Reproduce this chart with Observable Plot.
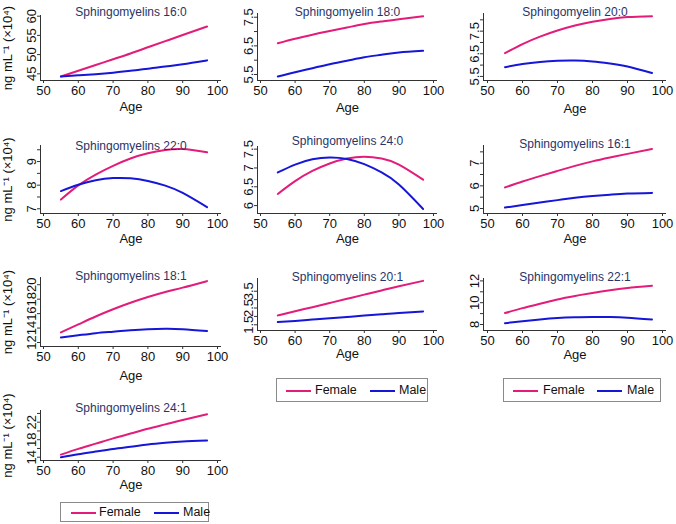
<!DOCTYPE html>
<html><head><meta charset="utf-8">
<script src="https://cdn.jsdelivr.net/npm/d3@7"></script>
<script src="https://cdn.jsdelivr.net/npm/@observablehq/plot@0.6"></script>
<style>
body{margin:0;background:#fff;font-family:"Liberation Sans",Arial,sans-serif;}
#root{position:relative;width:676px;height:524px;overflow:hidden;background:#fff;}
.panel{position:absolute;}
.legend{position:absolute;border:1px solid #8a8a8a;box-sizing:border-box;background:#fff;}
.legend .sw{position:absolute;height:2px;}
.legend .lab{position:absolute;font-size:12.5px;color:#111;line-height:14px;}
</style></head><body><div id="root"></div>
<script>
// ---------- data ----------
const ages = [55, 60, 65, 70, 75, 80, 85, 90, 97];
const sexes = ["Female", "Male"];
const sexColors = ["#e31c79", "#1616d8"];
const xTicks = [50, 60, 70, 80, 90, 100];
const xAxisLabel = "Age";
const yAxisLabel = "ng mL\u207B\u00B9 (\u00D710\u2074)";
const titles = ["Sphingomyelins 16:0", "Sphingomyelin 18:0", "Sphingomyelin 20:0",
  "Sphingomyelins 22:0", "Sphingomyelins 24:0", "Sphingomyelins 16:1",
  "Sphingomyelins 18:1", "Sphingomyelins 20:1", "Sphingomyelins 22:1", "Sphingomyelins 24:1"];

const female_16_0 = [44.3, 45.8, 47.3, 48.8, 50.3, 51.9, 53.5, 55.1, 57.3];
const male_16_0   = [44.3, 44.6, 44.9, 45.3, 45.8, 46.3, 46.9, 47.5, 48.5];
const female_18_0 = [6.59, 6.75, 6.89, 7.02, 7.14, 7.26, 7.35, 7.43, 7.53];
const male_18_0   = [5.43, 5.58, 5.72, 5.86, 5.98, 6.10, 6.19, 6.27, 6.33];
const female_20_0 = [6.53, 6.93, 7.26, 7.53, 7.75, 7.92, 8.04, 8.12, 8.16];
const male_20_0   = [5.91, 6.05, 6.14, 6.19, 6.20, 6.16, 6.07, 5.94, 5.65];
const female_22_0 = [7.39, 7.99, 8.45, 8.82, 9.13, 9.35, 9.49, 9.53, 9.39];
const male_22_0   = [7.75, 8.02, 8.21, 8.30, 8.29, 8.18, 7.98, 7.67, 7.07];
const female_24_0 = [6.31, 6.65, 6.92, 7.12, 7.25, 7.30, 7.25, 7.09, 6.69];
const male_24_0   = [6.88, 7.09, 7.23, 7.28, 7.24, 7.10, 6.88, 6.56, 5.91];
const female_16_1 = [5.93, 6.19, 6.43, 6.66, 6.88, 7.08, 7.25, 7.41, 7.63];
const male_16_1   = [5.04, 5.16, 5.27, 5.37, 5.47, 5.55, 5.61, 5.66, 5.69];
const female_18_1 = [13.4, 14.5, 15.6, 16.6, 17.5, 18.3, 19.0, 19.6, 20.5];
const male_18_1   = [12.7, 13.0, 13.3, 13.5, 13.7, 13.85, 13.9, 13.85, 13.6];
const female_20_1 = [2.06, 2.31, 2.55, 2.80, 3.05, 3.30, 3.55, 3.80, 4.12];
const male_20_1   = [1.66, 1.73, 1.81, 1.89, 1.97, 2.05, 2.13, 2.21, 2.30];
const female_22_1 = [9.05, 9.50, 9.90, 10.30, 10.62, 10.90, 11.15, 11.35, 11.55];
const male_22_1   = [8.12, 8.30, 8.47, 8.60, 8.66, 8.68, 8.68, 8.63, 8.46];
const female_24_1 = [14.6, 15.9, 17.1, 18.3, 19.4, 20.5, 21.5, 22.5, 23.8];
const male_24_1   = [14.0, 14.7, 15.3, 15.9, 16.4, 16.9, 17.3, 17.6, 17.8];

const yTicks_16_0 = [45, 50, 55, 60];            const yLabels_16_0 = ["45", "50", "55", "60"];
const yTicks_18_0 = [5.5, 6, 6.5, 7, 7.5];       const yLabels_18_0 = ["5.5", "", "6.5", "", "7.5"];
const yTicks_20_0 = [5.5, 6, 6.5, 7, 7.5, 8];    const yLabels_20_0 = ["5.5", "", "6.5", "", "7.5", ""];
const yTicks_22_0 = [7, 7.5, 8, 8.5, 9, 9.5];    const yLabels_22_0 = ["7", "", "8", "", "9", ""];
const yTicks_24_0 = [6, 6.5, 7, 7.5];            const yLabels_24_0 = ["6", "6.5", "7", "7.5"];
const yTicks_16_1 = [5, 5.5, 6, 6.5, 7, 7.5];    const yLabels_16_1 = ["5", "", "6", "", "7", ""];
const yTicks_18_1 = [12, 14, 16, 18, 20];        const yLabels_18_1 = ["12", "14", "16", "18", "20"];
const yTicks_20_1 = [1.5, 2, 2.5, 3, 3.5];       const yLabels_20_1 = ["1.5", "", "2.5", "", "3.5"];
const yTicks_22_1 = [8, 9, 10, 11, 12];          const yLabels_22_1 = ["8", "", "10", "", "12"];
const yTicks_24_1 = [14, 16, 18, 20, 22, 24];    const yLabels_24_1 = ["14", "", "18", "", "22", ""];

// ---------- layout (page pixels) ----------
const colL = {left: 40, x50: 43, x100: 217, right: 221};
const colM = {left: 257, x50: 260, x100: 433, right: 437};
const colR = {left: 483, x50: 487, x100: 662, right: 666};

const panels = [
  {title: titles[0], f: female_16_0, m: male_16_0, t: yTicks_16_0, l: yLabels_16_0, col: colL, top: 15, bottom: 80, ydom: [43.26, 60.18], titleY: 6.5, ageY: 110, ylab: true},
  {title: titles[1], f: female_18_0, m: male_18_0, t: yTicks_18_0, l: yLabels_18_0, col: colM, top: 13, bottom: 80, ydom: [5.29, 7.63], titleY: 6.5, ageY: 111},
  {title: titles[2], f: female_20_0, m: male_20_0, t: yTicks_20_0, l: yLabels_20_0, col: colR, top: 13, bottom: 80, ydom: [5.32, 8.28], titleY: 7, ageY: 112},
  {title: titles[3], f: female_22_0, m: male_22_0, t: yTicks_22_0, l: yLabels_22_0, col: colL, top: 145, bottom: 213, ydom: [6.8, 9.68], titleY: 140.5, ageY: 242, ylab: true},
  {title: titles[4], f: female_24_0, m: male_24_0, t: yTicks_24_0, l: yLabels_24_0, col: colM, top: 146, bottom: 213, ydom: [5.79, 7.57], titleY: 136, ageY: 242},
  {title: titles[5], f: female_16_1, m: male_16_1, t: yTicks_16_1, l: yLabels_16_1, col: colR, top: 145, bottom: 213, ydom: [4.78, 7.78], titleY: 139, ageY: 242},
  {title: titles[6], f: female_18_1, m: male_18_1, t: yTicks_18_1, l: yLabels_18_1, col: colL, top: 277, bottom: 346, ydom: [11.45, 21.0], titleY: 271, ageY: 379, ylab: true},
  {title: titles[7], f: female_20_1, m: male_20_1, t: yTicks_20_1, l: yLabels_20_1, col: colM, top: 278, bottom: 330, ydom: [1.16, 4.26], titleY: 272, ageY: 357},
  {title: titles[8], f: female_22_1, m: male_22_1, t: yTicks_22_1, l: yLabels_22_1, col: colR, top: 278, bottom: 330, ydom: [7.45, 12.22], titleY: 272, ageY: 358},
  {title: titles[9], f: female_24_1, m: male_24_1, t: yTicks_24_1, l: yLabels_24_1, col: colL, top: 410, bottom: 460, ydom: [13.25, 24.67], titleY: 403, ageY: 488, ylab: true}
];

const legends = [
  {left: 276, top: 378, width: 152, height: 24, items: [[9, 38], [93, 122]]},
  {left: 503, top: 378, width: 158, height: 24, items: [[9, 39], [93, 123]]},
  {left: 60, top: 502, width: 149, height: 20, items: [[10, 38], [93, 122]]}
];

const axisColor = "#333";
const titleColor = "#283468";
const root = document.getElementById("root");

function drawPanel(p) {
  const mL = 42, mR = 8, mT = 18, mB = 40;
  const c = p.col;
  const W = (c.right - c.left) + mL + mR;
  const H = (p.bottom - p.top) + mT + mB;
  const ppy = (c.x100 - c.x50) / 50;
  const xDom = [50 - (c.x50 - c.left) / ppy, 100 + (c.right - c.x100) / ppy];
  const rows = [];
  ages.forEach((a, i) => {
    rows.push({age: a, v: p.f[i], sex: sexes[0]});
    rows.push({age: a, v: p.m[i], sex: sexes[1]});
  });
  const marks = [
    Plot.ruleX([xDom[0]], {stroke: axisColor, strokeWidth: 1}),
    Plot.ruleY([p.ydom[0]], {stroke: axisColor, strokeWidth: 1}),
    Plot.axisX({ticks: xTicks, tickSize: 3, tickPadding: 2, label: null, anchor: "bottom", stroke: axisColor, fontSize: 13}),
    Plot.axisY({ticks: p.t, tickFormat: d => p.l[p.t.indexOf(d)], tickSize: 3, tickPadding: 2, tickRotate: -90,
      label: null, anchor: "left", stroke: axisColor, fontSize: 13}),
    Plot.line(rows, {x: "age", y: "v", stroke: "sex", z: "sex", strokeWidth: 2, curve: "natural"}),
    Plot.text([p.title], {frameAnchor: "top", dy: p.titleY - p.top, fontSize: 12, fill: titleColor}),
    Plot.text([xAxisLabel], {frameAnchor: "bottom", dy: p.ageY - p.bottom, fontSize: 13, fill: "#111"})
  ];
  if (p.ylab) marks.push(Plot.text([yAxisLabel], {frameAnchor: "left", textAnchor: "middle", dx: 7.5 - c.left, rotate: -90, fontSize: 13, fill: "#111"}));
  const chart = Plot.plot({
    width: W, height: H, marginLeft: mL, marginRight: mR, marginTop: mT, marginBottom: mB,
    style: {fontFamily: "'Liberation Sans', Arial, sans-serif", fontSize: "13px", color: "#111", background: "transparent", overflow: "visible"},
    x: {domain: xDom, axis: null},
    y: {domain: p.ydom, axis: null},
    color: {domain: sexes, range: sexColors},
    marks
  });
  const div = document.createElement("div");
  div.className = "panel";
  div.style.left = (c.left - mL) + "px";
  div.style.top = (p.top - mT) + "px";
  div.appendChild(chart);
  root.appendChild(div);
}
panels.forEach(drawPanel);

legends.forEach(L => {
  const box = document.createElement("div");
  box.className = "legend";
  Object.assign(box.style, {left: L.left + "px", top: L.top + "px", width: L.width + "px", height: L.height + "px"});
  sexes.forEach((s, i) => {
    const sw = document.createElement("div");
    sw.className = "sw";
    Object.assign(sw.style, {left: L.items[i][0] + "px", width: "25px", top: (L.height / 2 - 1) + "px", background: sexColors[i]});
    const lab = document.createElement("div");
    lab.className = "lab";
    lab.textContent = s;
    Object.assign(lab.style, {left: L.items[i][1] + "px", top: (L.height / 2 - 8) + "px"});
    box.appendChild(sw); box.appendChild(lab);
  });
  root.appendChild(box);
});
</script>
</body></html>
